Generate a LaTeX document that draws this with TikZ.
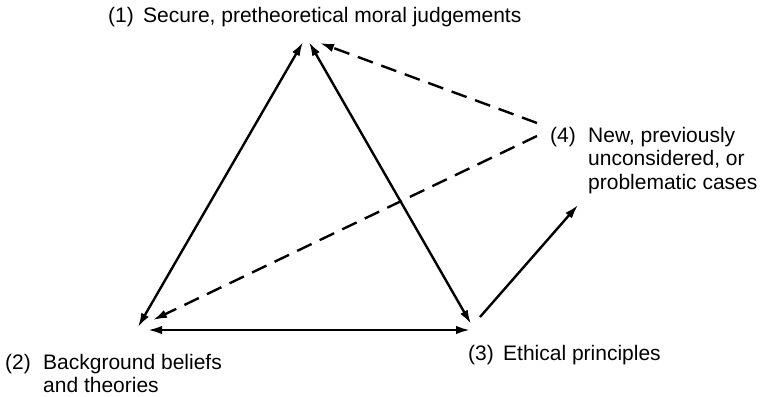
\documentclass[tikz,border=0pt]{standalone}
\usepackage{fontspec}
\setmainfont{Liberation Sans}
\usetikzlibrary{arrows.meta}
\begin{document}
\begin{tikzpicture}[x=1pt,y=-1pt,
  lbl/.style={inner sep=0pt,anchor=base west,font=\fontsize{21}{23.5}\selectfont},
  conn/.style={line width=2.4pt,>={Latex[length=14pt,width=8.5pt]}},
  dconn/.style={conn,dash pattern=on 16pt off 9pt}]
\path[use as bounding box] (0,0) rectangle (767,396);
% labels
\node[lbl] (n1) at (108,22.5) {(1)};
\node[lbl] (t1) at (143,22.5) {Secure, pretheoretical moral judgements};
\node[lbl] (n2) at (5,369) {(2)};
\node[lbl] (t2a) at (43,369) {Background beliefs};
\node[lbl] (t2b) at (43,392) {and theories};
\node[lbl] (n3) at (468,360) {(3)};
\node[lbl] (t3) at (503,360) {Ethical principles};
\node[lbl] (n4) at (550,142) {(4)};
\node[lbl] (t4a) at (588,142) {New, previously};
\node[lbl] (t4b) at (588,165.5) {unconsidered, or};
\node[lbl] (t4c) at (588,189) {problematic cases};
% connector end points
\coordinate (a1) at (303,42);
\coordinate (a2) at (309,42);
\coordinate (a3) at (320,43);
\coordinate (b1) at (138,327);
\coordinate (b2) at (153,320);
\coordinate (b3) at (148,330);
\coordinate (c1) at (471,324);
\coordinate (c2) at (470,330);
\coordinate (c3) at (480,317);
\coordinate (d1) at (537,123);
\coordinate (d2) at (537,136);
\coordinate (d3) at (578,205);
% connectors
\draw[conn,<->] (b1) -- (a1);
\draw[conn,<->] (a2) -- (c1);
\draw[conn,<->] (b3) -- (c2);
\draw[conn,->] (c3) -- (d3);
\draw[dconn,->] (d1) -- (a3);
\draw[dconn,->] (d2) -- (b2);
\end{tikzpicture}
\end{document}
